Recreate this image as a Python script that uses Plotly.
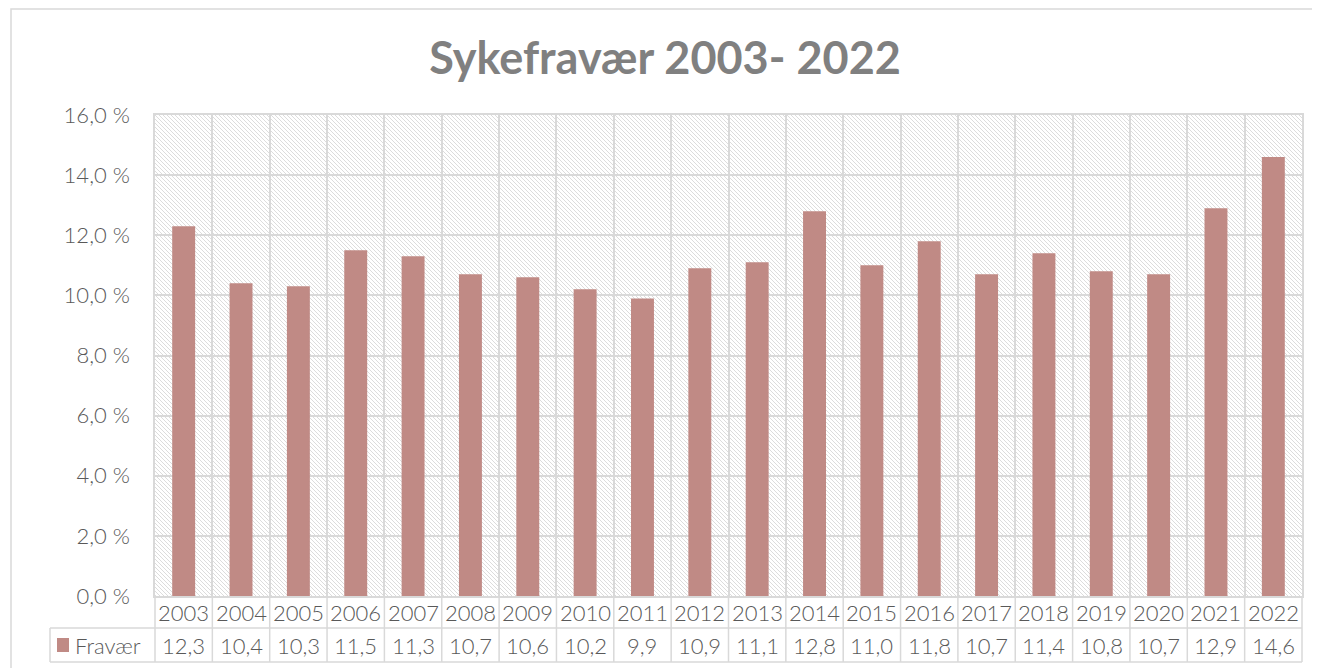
import plotly.graph_objects as go
import base64

years = ["2003", "2004", "2005", "2006", "2007", "2008", "2009", "2010", "2011", "2012",
         "2013", "2014", "2015", "2016", "2017", "2018", "2019", "2020", "2021", "2022"]
fravaer = [12.3, 10.4, 10.3, 11.5, 11.3, 10.7, 10.6, 10.2, 9.9, 10.9,
           11.1, 12.8, 11.0, 11.8, 10.7, 11.4, 10.8, 10.7, 12.9, 14.6]
series_name = "Fravær"
title_text = "Sykefravær 2003- 2022"
y_ticks = [0, 2, 4, 6, 8, 10, 12, 14, 16]

# page body has an 8px margin; work in absolute window pixels, convert below
OFF = 8
W, H = 1320 - OFF, 668 - OFF
PL, PR, PT, PB = 155, 1302, 115, 596          # plot area, absolute pixels
L, T = PL - OFF, PT - OFF
R, B = W - (PR - OFF), H - (PB - OFF)
PW, PH = PR - PL, PB - PT

BAR = "#C08A85"
GRID = "#D9D9D9"
TXT = "#595959"
FONT = "Lato"


def px(x):
    return (x - PL) / PW


def py(y):
    return (PB - y) / PH


svg = (
    f'<svg xmlns="http://www.w3.org/2000/svg" width="{PW}" height="{PH}">'
    '<defs><pattern id="p" width="4" height="4" patternUnits="userSpaceOnUse">'
    '<path d="M-1,-1 L5,5 M-1,3 L1,5 M3,-1 L5,1" stroke="#DCDCDC" stroke-width="1"/>'
    '</pattern></defs>'
    f'<rect width="{PW}" height="{PH}" fill="white"/>'
    f'<rect width="{PW}" height="{PH}" fill="url(#p)"/></svg>'
)
svg_uri = "data:image/svg+xml;base64," + base64.b64encode(svg.encode()).decode()

fig = go.Figure()
fig.add_trace(go.Bar(
    x=years, y=fravaer, name=series_name,
    marker=dict(color=BAR, line=dict(width=0)),
    showlegend=False,
))

shapes = []
annotations = []

n = len(years)
cw = PW / n
y0_tab, y_mid, y_bot = 596, 628, 662

for i in range(n + 1):
    xp = PL + i * cw
    shapes.append(dict(type="line", xref="paper", yref="paper",
                       x0=px(xp), x1=px(xp), y0=py(y0_tab), y1=py(y_bot),
                       line=dict(color=GRID, width=1.5), layer="above"))
shapes.append(dict(type="line", xref="paper", yref="paper",
                   x0=px(50), x1=px(PR), y0=py(y_mid), y1=py(y_mid),
                   line=dict(color=GRID, width=1.5)))
shapes.append(dict(type="line", xref="paper", yref="paper",
                   x0=px(50), x1=px(PR), y0=py(y_bot), y1=py(y_bot),
                   line=dict(color=GRID, width=1.5)))
shapes.append(dict(type="line", xref="paper", yref="paper",
                   x0=px(50), x1=px(50), y0=py(y_mid), y1=py(y_bot),
                   line=dict(color=GRID, width=1.5)))
shapes.append(dict(type="rect", xref="paper", yref="paper",
                   x0=px(57), x1=px(69), y0=py(652), y1=py(638),
                   fillcolor=BAR, line=dict(width=0)))
shapes.append(dict(type="rect", xref="paper", yref="paper",
                   x0=px(11), x1=px(1314), y0=py(720), y1=py(9),
                   line=dict(color="#D9D9D9", width=1.5)))

tfont = dict(family=FONT, size=22, color=TXT, weight=300)
for i, (yr, v) in enumerate(zip(years, fravaer)):
    cx = PL + (i + 0.5) * cw
    annotations.append(dict(text=yr, xref="paper", yref="paper", x=px(cx), y=py(612),
                            showarrow=False, xanchor="center", yanchor="middle",
                            font=tfont))
    annotations.append(dict(text=f"{v:.1f}".replace(".", ","), xref="paper", yref="paper",
                            x=px(cx), y=py(645), showarrow=False,
                            xanchor="center", yanchor="middle", font=tfont))
annotations.append(dict(text=series_name, xref="paper", yref="paper", x=px(73), y=py(645),
                        showarrow=False, xanchor="left", yanchor="middle", font=tfont))

fig.update_layout(
    width=W, height=H,
    margin=dict(l=L, r=R, t=T, b=B, pad=0),
    paper_bgcolor="white", plot_bgcolor="white",
    separators=", ",
    bargap=0.6,
    title=dict(text=f"<b>{title_text}</b>", x=(665 - OFF) / W, xanchor="center",
               y=1 - (58 - OFF) / H, yanchor="middle",
               font=dict(family=FONT, size=45, color="#808080")),
    xaxis=dict(type="category", tickson="boundaries", showgrid=True,
               gridcolor=GRID, gridwidth=1.5, showticklabels=False, ticks="",
               showline=True, linecolor=GRID, linewidth=1.5, mirror=True,
               range=[-0.5, n - 0.5]),
    yaxis=dict(range=[0, 16], tickvals=y_ticks,
               ticktext=[f"{t:.1f}".replace(".", ",") + " %" for t in y_ticks],
               showgrid=True, gridcolor=GRID, gridwidth=1.5, ticks="",
               showline=True, linecolor=GRID, linewidth=1.5, mirror=True,
               zeroline=False, ticklabelstandoff=19,
               tickfont=tfont),
    images=[dict(source=svg_uri, xref="paper", yref="paper", x=0, y=1,
                 sizex=1, sizey=1, xanchor="left", yanchor="top",
                 sizing="stretch", layer="below")],
    shapes=shapes,
    annotations=annotations,
)

fig.write_html("out.html")
